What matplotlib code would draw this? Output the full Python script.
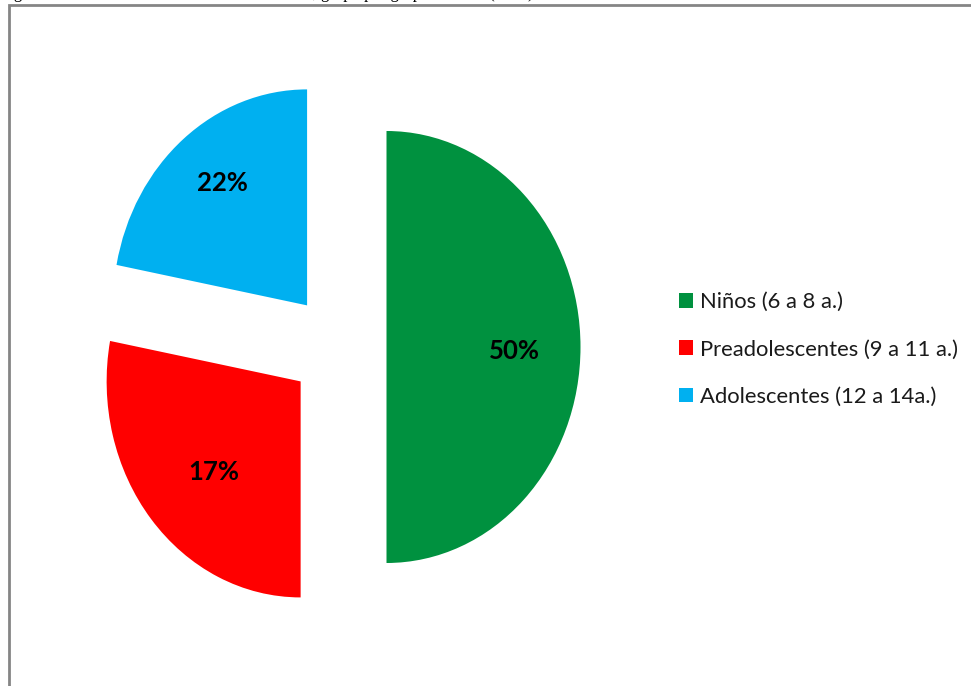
import numpy as np
import matplotlib
matplotlib.use("Agg")
import matplotlib.pyplot as plt
import matplotlib.patches as patches

# age groups and their share of the sample
groups = ["Niños (6 a 8 a.)", "Preadolescentes (9 a 11 a.)", "Adolescentes (12 a 14a.)"]
shares = [50, 28, 22]
pct_labels = ["50%", "17%", "22%"]
colors = ["#00913f", "#ff0000", "#00b0f0"]

W, H = 971, 686
fig = plt.figure(figsize=(W / 100, H / 100), dpi=100)

# caption line (runs off the top of the page)
fig.text(0.0, 1 + 1.5 / H, "Figura 1. Distribución de la muestra de estudio, grupo por grupo de edad (2015)",
         family="Liberation Serif", fontsize=12, va="baseline", ha="left")

# chart frame
frame = patches.Rectangle((8.5 / W, -0.1), 1.2, 1.1 - 4.5 / H, transform=fig.transFigure,
                          fill=False, edgecolor="#858585", linewidth=2.0, clip_on=False)
fig.patches.append(frame)

# pie axes: slightly squashed horizontally like the spreadsheet chart
cx, cy = 338, 347
rx, ry = 194, 216
span = 1.5
ax = fig.add_axes([(cx - span * rx) / W, (H - cy - span * ry) / H,
                   2 * span * rx / W, 2 * span * ry / H])
wedges, _ = ax.pie(shares, colors=colors, startangle=90, counterclock=False,
                   explode=[0.25, 0.25, 0.25], radius=1.0,
                   wedgeprops=dict(linewidth=0))
ax.set_aspect("auto")
ax.set_xlim(-span, span)
ax.set_ylim(-span, span)
ax.axis("off")

# percentage labels inside each wedge (green, red, blue)
label_dist = [0.66, 0.60, 0.73]
label_rot = [0, 2, -3]  # small angular nudge, degrees
for w, txt, d, r in zip(wedges, pct_labels, label_dist, label_rot):
    mid = np.deg2rad((w.theta1 + w.theta2) / 2 + r)
    x0, y0 = w.center
    ax.text(x0 + d * np.cos(mid), y0 + d * np.sin(mid) - 0.02, txt,
            ha="center", va="center", fontsize=18.5, fontweight="bold",
            family="Lato", color="black")

leg = fig.legend(wedges, groups, loc="upper left",
                 bbox_to_anchor=(668 / W, 1 - 281 / H), frameon=False,
                 prop=dict(family="Lato", size=15.8),
                 handlelength=0.65, handleheight=0.65, handletextpad=0.3,
                 labelspacing=1.25, borderpad=0)
for t in leg.get_texts():
    t.set_color("#1a1a1a")

fig.savefig("out.png", dpi=100, facecolor="white")
plt.close(fig)
